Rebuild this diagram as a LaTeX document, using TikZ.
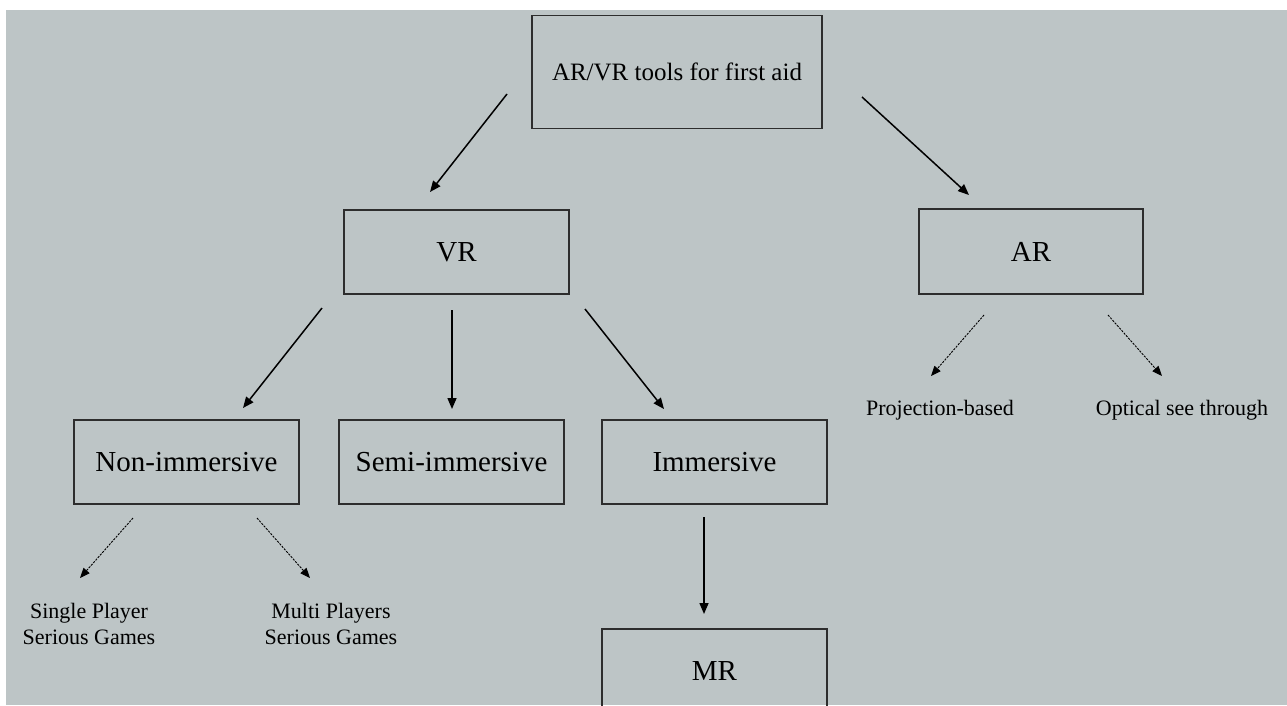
\documentclass[tikz,border=0pt]{standalone}
\usepackage{fontspec}
\setmainfont{Liberation Serif}
\usetikzlibrary{arrows.meta}
\definecolor{bggray}{RGB}{189,197,198}
\definecolor{boxline}{RGB}{45,45,45}
\tikzset{
  box/.style={draw=boxline, line width=1.4pt, rectangle, inner sep=0pt,
    font=\fontsize{29}{34}\selectfont, text=black},
  lbl/.style={inner sep=0pt, align=center, font=\fontsize{22}{26}\selectfont, text=black},
  solidarrow/.style={draw=black, line width=1.5pt, -{Triangle[length=11pt,width=9pt]}},
  dasharrow/.style={draw=black, line width=0.9pt, dash pattern=on 2.2pt off 1.2pt,
    -{Triangle[length=10pt,width=8pt]}}
}
\begin{document}
\begin{tikzpicture}[x=1pt,y=-1pt]
\useasboundingbox (0,0) rectangle (1287,705);
\fill[white] (0,0) rectangle (1287,705);
\fill[bggray] (6,10) rectangle (1287,705);
\begin{scope}
\clip (6,10) rectangle (1287,705);
% boxes
\node[box, minimum width=290pt, minimum height=113pt, font=\fontsize{25}{30}\selectfont] (top) at (677,72) {AR/VR tools for first aid};
\node[box, minimum width=225pt, minimum height=84pt] (vr) at (456.5,252) {VR};
\node[box, minimum width=224pt, minimum height=85pt] (ar) at (1031,251.5) {AR};
\node[box, minimum width=225pt, minimum height=84pt] (non) at (186.5,462) {Non-immersive};
\node[box, minimum width=225pt, minimum height=84pt] (semi) at (451.5,462) {Semi-immersive};
\node[box, minimum width=225pt, minimum height=84pt] (imm) at (714.5,462) {Immersive};
\node[box, minimum width=225pt, minimum height=84pt] (mr) at (714.5,671) {MR};
% labels
\node[lbl] (single) at (89,624) {Single Player\\Serious Games};
\node[lbl] (multi) at (331,624) {Multi Players\\Serious Games};
\node[lbl] (proj) at (940,410) {Projection-based};
\node[lbl] (opt) at (1182,410) {Optical see through};
% connector end points
\coordinate (t2vs) at (507,94);
\coordinate (t2ve) at (430,192);
\coordinate (t2as) at (862,97);
\coordinate (t2ae) at (969,195);
\coordinate (v2ns) at (322,308);
\coordinate (v2ne) at (243,408);
\coordinate (v2ss) at (452,310);
\coordinate (v2se) at (452,409);
\coordinate (v2is) at (585,309);
\coordinate (v2ie) at (664,409);
\coordinate (i2ms) at (704,517);
\coordinate (i2me) at (704,614);
\coordinate (n2ss) at (133,518);
\coordinate (n2se) at (80,578);
\coordinate (n2ms) at (257,518);
\coordinate (n2me) at (310,578);
\coordinate (a2ps) at (984,315);
\coordinate (a2pe) at (931,376);
\coordinate (a2os) at (1108,315);
\coordinate (a2oe) at (1162,376);
% connectors
\draw[solidarrow] (t2vs) -- (t2ve);
\draw[solidarrow] (t2as) -- (t2ae);
\draw[solidarrow] (v2ns) -- (v2ne);
\draw[solidarrow] (v2ss) -- (v2se);
\draw[solidarrow] (v2is) -- (v2ie);
\draw[solidarrow] (i2ms) -- (i2me);
\draw[dasharrow] (n2ss) -- (n2se);
\draw[dasharrow] (n2ms) -- (n2me);
\draw[dasharrow] (a2ps) -- (a2pe);
\draw[dasharrow] (a2os) -- (a2oe);
\end{scope}
\end{tikzpicture}
\end{document}
